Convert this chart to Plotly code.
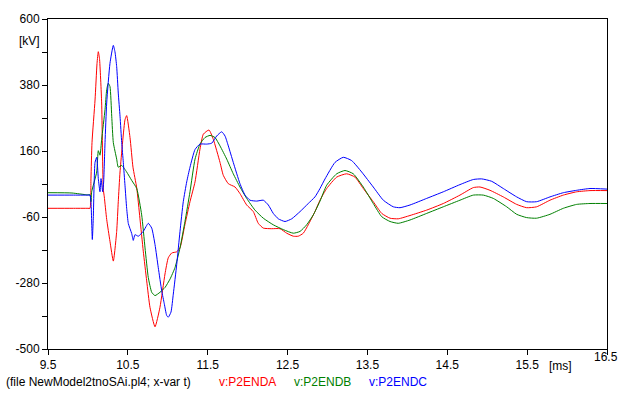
import plotly.graph_objects as go

# ---- data (t in ms, v in kV) ----
t_a = [9.5, 9.8, 10.0, 10.026, 10.038, 10.051, 10.089, 10.114, 10.13, 10.145, 10.172, 10.192, 10.205, 10.235, 10.276, 10.318,
       10.36, 10.38, 10.402, 10.464, 10.485, 10.527, 10.564, 10.611, 10.651, 10.693, 10.736, 10.777, 10.84, 10.902,
       10.965, 11.006, 11.049, 11.112, 11.153, 11.215, 11.278, 11.341, 11.403, 11.445, 11.516, 11.57, 11.654, 11.695,
       11.758, 11.842, 11.904, 11.988, 12.071, 12.133, 12.196, 12.301, 12.405, 12.489, 12.572, 12.634, 12.697, 12.759,
       12.843, 12.906, 12.99, 13.115, 13.24, 13.344, 13.448, 13.573, 13.679, 13.783, 13.886, 14.033, 14.242, 14.45,
       14.659, 14.826, 14.91, 15.035, 15.201, 15.369, 15.494, 15.619, 15.786, 15.953, 16.12, 16.287, 16.5]
v_a = [-31, -31, -31, -31, 67, 188, 330, 452, 491, 468, 320, 34, 7, -68, -141, -207,
       -108, -9, 90, 264, 278, 205, 106, 37, -64, -174, -273, -361, -426, -361,
       -250, -196, -180, -176, -163, -85, -9, 57, 166, 216, 230, 199, 122, 79,
       51, 40, 18, -20, -42, -81, -97, -99, -99, -114, -124, -124, -114, -86,
       -42, -4, 35, 73, 84, 73, 35, -9, -48, -64, -66, -55, -37, -15,
       13, 38, 40, 29, 7, -18, -29, -26, -4, 13, 24, 28, 28]

t_b = [9.5, 9.8, 9.985, 10.026, 10.038, 10.047, 10.11, 10.13, 10.151, 10.172, 10.214, 10.235, 10.255, 10.276, 10.298,
       10.318, 10.36, 10.38, 10.423, 10.485, 10.548, 10.611, 10.673, 10.715, 10.756, 10.799, 10.84, 10.902, 10.965,
       11.028, 11.09, 11.153, 11.215, 11.278, 11.341, 11.403, 11.466, 11.529, 11.591, 11.654, 11.738, 11.82, 11.904,
       11.988, 12.092, 12.196, 12.321, 12.446, 12.572, 12.656, 12.739, 12.822, 12.906, 12.99, 13.115, 13.219, 13.323,
       13.448, 13.573, 13.679, 13.783, 13.886, 14.033, 14.242, 14.45, 14.659, 14.826, 14.951, 15.076, 15.244, 15.369,
       15.494, 15.619, 15.786, 15.953, 16.12, 16.287, 16.5]
v_b = [21, 20, 14, 14, -9, 24, 90, 161, 146, 199, 298, 364, 386, 375, 276,
       188, 133, 106, 112, 90, 62, 35, -53, -163, -262, -311, -322, -311, -295,
       -267, -229, -163, -75, 24, 133, 183, 205, 212, 205, 177, 133, 84, 40,
       2, -37, -64, -86, -102, -114, -108, -86, -53, -7, 46, 84, 95, 84,
       40, -15, -59, -75, -81, -70, -48, -26, -4, 13, 13, 2, -26, -51,
       -62, -64, -51, -31, -18, -15, -15]

t_c = [9.5, 9.8, 10.0, 10.026, 10.038, 10.055, 10.067, 10.089, 10.11, 10.13, 10.151, 10.164, 10.185, 10.197, 10.214, 10.235,
       10.276, 10.318, 10.339, 10.36, 10.38, 10.402, 10.423, 10.443, 10.464, 10.485, 10.506, 10.548, 10.568, 10.589,
       10.631, 10.693, 10.736, 10.756, 10.799, 10.84, 10.881, 10.924, 10.956, 10.986, 11.006, 11.04, 11.069, 11.112,
       11.153, 11.194, 11.237, 11.278, 11.341, 11.403, 11.487, 11.55, 11.612, 11.675, 11.717, 11.758, 11.82, 11.904,
       11.967, 12.029, 12.113, 12.196, 12.259, 12.321, 12.384, 12.468, 12.552, 12.656, 12.759, 12.843, 12.906, 12.969,
       13.094, 13.198, 13.303, 13.428, 13.573, 13.699, 13.824, 13.908, 14.033, 14.242, 14.45, 14.659, 14.826, 14.931,
       15.056, 15.201, 15.369, 15.494, 15.619, 15.786, 15.953, 16.12, 16.287, 16.5]
v_c = [13, 13, 13, 13, -9, -135, -64, 122, 139, 68, 24, 68, 24, 57, 188, 320,
       452, 512, 490, 441, 353, 276, 188, 122, 46, -31, -82, -115, -138, -119,
       -124, -108, -88, -81, -97, -152, -229, -306, -349, -388, -394, -377, -317, -218,
       -108, -9, 57, 106, 165, 183, 183, 186, 210, 224, 210, 177, 122, 51,
       13, -4, -7, -4, -20, -48, -66, -75, -66, -42, -15, 7, 35, 67,
       122, 139, 128, 90, 40, -4, -26, -29, -20, 2, 24, 48, 65, 67,
       59, 35, 7, -9, -9, 7, 21, 29, 35, 33]

series_names = ["v:P2ENDA", "v:P2ENDB", "v:P2ENDC"]
series_colors = ["#ff0000", "#008000", "#0000ff"]

x_tick_vals = [9.5, 10.5, 11.5, 12.5, 13.5, 14.5, 15.5, 16.5]
x_tick_text = ["9.5", "10.5", "11.5", "12.5", "13.5", "14.5", "15.5", ""]
y_tick_vals = [-500, -390, -280, -170, -60, 50, 160, 270, 380, 490, 600]
y_tick_text = ["-500", "", "-280", "", "-60", "", "160", "", "380", "", "600"]

FONT = "Liberation Sans, Arial, sans-serif"

fig = go.Figure()
for t, v, name, col in zip([t_a, t_b, t_c], [v_a, v_b, v_c], series_names, series_colors):
    fig.add_trace(go.Scatter(x=t, y=v, mode="lines", name=name,
                             line=dict(color=col, width=1, shape="spline", smoothing=0.5),
                             hoverinfo="skip"))

W, H = 621, 394
L, R, T, B = 48, 14, 15, 45
pw, ph = W - L - R, H - T - B

def px(x):
    return (x - L) / pw

def py(y):
    return (H - B - y) / ph

fig.update_layout(
    width=W, height=H,
    margin=dict(l=L, r=R, t=T, b=B),
    paper_bgcolor="white", plot_bgcolor="white",
    showlegend=False,
    font=dict(family=FONT, size=12, color="#000000"),
    xaxis=dict(range=[9.5, 16.5], tickvals=x_tick_vals, ticktext=x_tick_text,
               ticks="outside", ticklen=5, tickcolor="black", tickwidth=1,
               showline=True, linecolor="black", linewidth=1, mirror=True,
               showgrid=False, zeroline=False, tickfont=dict(size=12, family=FONT)),
    yaxis=dict(range=[-500, 600], tickvals=y_tick_vals, ticktext=y_tick_text,
               ticks="outside", ticklen=5, tickcolor="black", tickwidth=1,
               showline=True, linecolor="black", linewidth=1, mirror=True,
               showgrid=False, zeroline=False, tickfont=dict(size=12, family=FONT)),
)

ann = []
ann.append(dict(text="[kV]", x=px(29), y=py(37), xref="paper", yref="paper",
                showarrow=False, xanchor="center", yanchor="middle", font=dict(size=12, family=FONT)))
ann.append(dict(text="[ms]", x=px(560), y=py(366), xref="paper", yref="paper",
                showarrow=False, xanchor="center", yanchor="middle", font=dict(size=12, family=FONT)))
ann.append(dict(text="16.5", x=px(620), y=py(357), xref="paper", yref="paper",
                showarrow=False, xanchor="right", yanchor="middle",
                font=dict(size=12, family=FONT)))
ann.append(dict(text="(file NewModel2tnoSAi.pl4; x-var t)", x=px(4), y=py(382), xref="paper", yref="paper",
                showarrow=False, xanchor="left", yanchor="middle", font=dict(size=12, family=FONT)))
leg_x = [217, 292, 367]
for name, col, lx in zip(series_names, series_colors, leg_x):
    ann.append(dict(text=name, x=px(lx), y=py(382), xref="paper", yref="paper",
                    showarrow=False, xanchor="left", yanchor="middle",
                    font=dict(size=12, family=FONT, color=col)))
fig.update_layout(annotations=ann)

fig.write_html("out.html")
